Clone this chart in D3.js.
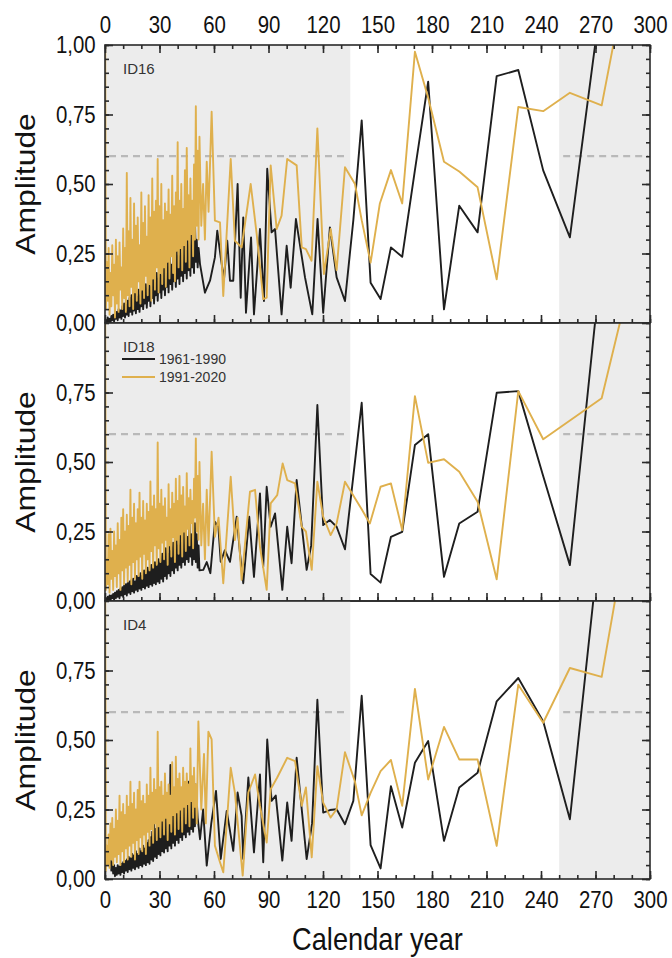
<!DOCTYPE html>
<html>
<head>
<meta charset="utf-8">
<script src="https://cdn.jsdelivr.net/npm/d3@7"></script>
<style>
  body { margin: 0; background: #fff; }
  svg { display: block; font-family: "Liberation Sans", Arial, sans-serif; }
</style>
</head>
<body>
<div id="chart"></div>
<script>
// x = calendar year (period), y = amplitude.
// below ~52 the curves are a dense zigzag mass, after that single vertices
var id16_1961 = [[0,0],[0.5,0.01],[1,0],[1.5,0.02],[2,0.005],[2.5,0.015],[3,0],[3.5,0.025],[4,0.01],[4.5,0.03],[5,0.005],[5.5,0.035],[6,0.015],[6.5,0.04],[7,0.01],[7.5,0.05],[8,0.02],[8.5,0.045],[9,0.015],[9.5,0.06],[10,0.025],[10.5,0.07],[11,0.02],[11.5,0.065],[12,0.03],[12.5,0.08],[13,0.025],[13.5,0.09],[14,0.04],[14.5,0.1],[15,0.03],[15.5,0.085],[16,0.045],[16.5,0.11],[17,0.035],[17.5,0.095],[18,0.05],[18.5,0.12],[19,0.04],[19.5,0.1],[20,0.06],[20.5,0.13],[21,0.05],[21.5,0.11],[22,0.07],[22.5,0.14],[23,0.055],[23.5,0.12],[24,0.08],[24.5,0.16],[25,0.06],[25.5,0.13],[26,0.09],[26.5,0.22],[27,0.07],[27.5,0.15],[28,0.1],[28.5,0.18],[29,0.08],[29.5,0.16],[30,0.11],[30.5,0.2],[31,0.09],[31.5,0.17],[32,0.12],[32.5,0.22],[33,0.1],[33.5,0.19],[34,0.13],[34.5,0.24],[35,0.11],[35.5,0.28],[36,0.14],[36.5,0.21],[37,0.12],[37.5,0.25],[38,0.15],[38.5,0.22],[39,0.13],[39.5,0.27],[40,0.16],[40.5,0.24],[41,0.14],[41.5,0.29],[42,0.17],[42.5,0.25],[43,0.15],[43.5,0.3],[44,0.18],[44.5,0.26],[45,0.16],[45.5,0.33],[46,0.19],[46.5,0.28],[47,0.17],[47.5,0.35],[48,0.2],[48.5,0.3],[49,0.18],[49.5,0.38],[50,0.22],[50.5,0.3],[51,0.2],[51.5,0.27],
  [52.3,0.212],[55,0.109],[57.8,0.152],[60.5,0.236],[61.8,0.332],[63.7,0.236],[65.5,0.158],[67.3,0.296],[68.8,0.152],[70.6,0.152],[73,0.5],[74.7,0.091],[76.1,0.38],[77.6,0.037],[80.4,0.308],[82,0.031],[85.3,0.338],[87.5,0.079],[89.3,0.555],[91.7,0.326],[93.6,0.338],[97.2,0.031],[100,0.278],[102.2,0.127],[105.1,0.374],[110.1,0.164],[114.1,0.031],[117,0.374],[120.1,0.037],[123.8,0.344],[127.5,0.164],[132.1,0.079],[136.7,0.37],[141.3,0.729],[146.2,0.145],[151.7,0.086],[157.4,0.272],[163.6,0.238],[170.6,0.55],[177.9,0.868],[186.6,0.049],[195,0.422],[205.1,0.326],[215.6,0.888],[227.5,0.91],[241.2,0.549],[255.9,0.308],[274,1.21]];
var id16_1991 = [[0,1.3],[0.5,0.05],[1,0.22],[1.5,0.08],[2,0.27],[2.5,0.03],[3,0.18],[3.5,0.06],[4,0.28],[4.5,0.1],[5,0.21],[5.5,0.02],[6,0.3],[6.5,0.07],[7,0.24],[7.5,0.04],[8,0.29],[8.5,0.12],[9,0.2],[9.5,0.05],[10,0.34],[10.5,0.09],[11,0.27],[11.5,0.04],[12,0.54],[12.5,0.1],[13,0.33],[13.5,0.06],[14,0.45],[14.5,0.13],[15,0.3],[15.5,0.05],[16,0.43],[16.5,0.11],[17,0.35],[17.5,0.08],[18,0.38],[18.5,0.15],[19,0.28],[19.5,0.07],[20,0.47],[20.5,0.12],[21,0.36],[21.5,0.09],[22,0.42],[22.5,0.17],[23,0.31],[23.5,0.1],[24,0.46],[24.5,0.14],[25,0.38],[25.5,0.08],[26,0.52],[26.5,0.16],[27,0.4],[27.5,0.12],[28,0.44],[28.5,0.2],[29,0.59],[29.5,0.11],[30,0.42],[30.5,0.18],[31,0.5],[31.5,0.14],[32,0.37],[32.5,0.2],[33,0.43],[33.5,0.13],[34,0.4],[34.5,0.22],[35,0.48],[35.5,0.16],[36,0.39],[36.5,0.24],[37,0.53],[37.5,0.18],[38,0.42],[38.5,0.15],[39,0.47],[39.5,0.26],[40,0.65],[40.5,0.2],[41,0.44],[41.5,0.27],[42,0.5],[42.5,0.19],[43,0.41],[43.5,0.28],[44,0.55],[44.5,0.22],[45,0.63],[45.5,0.3],[46,0.46],[46.5,0.2],[47,0.52],[47.5,0.32],[48,0.44],[48.5,0.24],[49,0.57],[49.5,0.3],[50,0.78],[50.5,0.35],[51,0.62],[51.5,0.3],[52,0.67],
  [53,0.35],[54,0.5],[55,0.3],[56,0.58],[57,0.4],[58.7,0.76],[60.5,0.368],[63.3,0.362],[65.1,0.097],[69.2,0.59],[71.5,0.296],[75.2,0.272],[80.2,0.5],[83.5,0.32],[87.1,0.086],[89,0.091],[91.2,0.567],[94.5,0.338],[97.2,0.386],[100.3,0.59],[105.5,0.567],[108.3,0.272],[110.6,0.266],[113.7,0.224],[116.9,0.7],[120.5,0.176],[124.2,0.338],[127.5,0.19],[132.1,0.56],[137.6,0.5],[141.3,0.37],[146.2,0.217],[151.3,0.43],[157.4,0.55],[163.6,0.43],[170.6,0.976],[177.9,0.81],[186.6,0.58],[195,0.545],[205.1,0.488],[215.6,0.157],[227.5,0.777],[241.2,0.762],[255.9,0.828],[273.4,0.783],[279.8,1.0],[290,1.4]];

var id18_1961 = [[0,0],[0.5,0.01],[1,0],[1.5,0.015],[2,0.005],[2.5,0.02],[3,0],[3.5,0.02],[4,0.01],[4.5,0.025],[5,0.005],[5.5,0.03],[6,0.01],[6.5,0.035],[7,0.015],[7.5,0.04],[8,0.01],[8.5,0.045],[9,0.02],[9.5,0.05],[10,0.015],[10.5,0.055],[11,0.025],[11.5,0.06],[12,0.02],[12.5,0.065],[13,0.03],[13.5,0.07],[14,0.025],[14.5,0.075],[15,0.035],[15.5,0.08],[16,0.03],[16.5,0.07],[17,0.04],[17.5,0.09],[18,0.035],[18.5,0.085],[19,0.045],[19.5,0.1],[20,0.04],[20.5,0.09],[21,0.05],[21.5,0.11],[22,0.045],[22.5,0.1],[23,0.055],[23.5,0.12],[24,0.05],[24.5,0.11],[25,0.06],[25.5,0.13],[26,0.055],[26.5,0.12],[27,0.065],[27.5,0.14],[28,0.06],[28.5,0.13],[29,0.07],[29.5,0.15],[30,0.065],[30.5,0.14],[31,0.08],[31.5,0.17],[32,0.07],[32.5,0.16],[33,0.09],[33.5,0.19],[34,0.08],[34.5,0.17],[35,0.1],[35.5,0.2],[36,0.09],[36.5,0.18],[37,0.11],[37.5,0.21],[38,0.1],[38.5,0.19],[39,0.12],[39.5,0.22],[40,0.11],[40.5,0.2],[41,0.13],[41.5,0.24],[42,0.12],[42.5,0.21],[43,0.14],[43.5,0.25],[44,0.13],[44.5,0.27],[45,0.15],[45.5,0.23],[46,0.14],[46.5,0.28],[47,0.16],[47.5,0.24],[48,0.13],[48.5,0.26],[49,0.15],[49.5,0.28],[50,0.14],[50.5,0.24],[51,0.12],[51.5,0.2],[52,0.11],
  [54.1,0.112],[56,0.14],[58,0.1],[60.5,0.285],[62.4,0.267],[63.7,0.141],[66,0.183],[68.8,0.141],[72.5,0.303],[74.3,0.172],[76.1,0.064],[79.4,0.303],[82,0.087],[85.3,0.387],[87.1,0.123],[89,0.411],[91.2,0.267],[93.6,0.315],[97.6,0.04],[100.3,0.267],[102.7,0.136],[105.5,0.435],[111,0.112],[113.5,0.2],[116.9,0.705],[120.1,0.273],[123.8,0.291],[127.5,0.267],[132.1,0.186],[141.3,0.713],[146.2,0.097],[151.7,0.066],[157.4,0.231],[163.6,0.249],[170.6,0.561],[177.9,0.6],[186.6,0.087],[195,0.279],[205.1,0.321],[215.6,0.749],[227.5,0.755],[241.2,0.45],[255.9,0.129],[274,1.27]];
var id18_1991 = [[0,1.3],[0.5,0.04],[1,0.15],[1.5,0.06],[2,0.24],[2.5,0.03],[3,0.26],[3.5,0.08],[4,0.18],[4.5,0.04],[5,0.25],[5.5,0.09],[6,0.2],[6.5,0.05],[7,0.28],[7.5,0.1],[8,0.22],[8.5,0.04],[9,0.3],[9.5,0.11],[10,0.33],[10.5,0.06],[11,0.25],[11.5,0.12],[12,0.31],[12.5,0.07],[13,0.27],[13.5,0.13],[14,0.4],[14.5,0.06],[15,0.3],[15.5,0.14],[16,0.35],[16.5,0.08],[17,0.28],[17.5,0.15],[18,0.33],[18.5,0.09],[19,0.39],[19.5,0.16],[20,0.3],[20.5,0.08],[21,0.36],[21.5,0.17],[22,0.29],[22.5,0.1],[23,0.35],[23.5,0.15],[24,0.32],[24.5,0.11],[25,0.43],[25.5,0.18],[26,0.34],[26.5,0.12],[27,0.38],[27.5,0.2],[28,0.33],[28.5,0.13],[29,0.57],[29.5,0.19],[30,0.35],[30.5,0.14],[31,0.4],[31.5,0.21],[32,0.34],[32.5,0.15],[33,0.37],[33.5,0.22],[34,0.3],[34.5,0.13],[35,0.42],[35.5,0.2],[36,0.33],[36.5,0.16],[37,0.39],[37.5,0.23],[38,0.35],[38.5,0.14],[39,0.44],[39.5,0.22],[40,0.36],[40.5,0.17],[41,0.45],[41.5,0.24],[42,0.38],[42.5,0.16],[43,0.41],[43.5,0.25],[44,0.34],[44.5,0.18],[45,0.46],[45.5,0.26],[46,0.37],[46.5,0.2],[47,0.4],[47.5,0.28],[48,0.36],[48.5,0.19],[49,0.44],[49.5,0.3],[50,0.585],[50.5,0.25],[51,0.45],[51.5,0.22],[52,0.5],
  [53,0.2],[54,0.35],[55,0.15],[56,0.4],[57,0.2],[58.7,0.537],[60.5,0.231],[62.5,0.3],[65.1,0.064],[69.2,0.447],[71.5,0.219],[73,0.3],[75.2,0.076],[79.8,0.393],[82.6,0.4],[85.3,0.195],[89,0.04],[91.2,0.351],[94.8,0.381],[97.8,0.495],[100.3,0.435],[104.6,0.423],[108.3,0.267],[110.6,0.25],[113.8,0.112],[116.9,0.429],[120.1,0.303],[124.2,0.237],[127.5,0.279],[132.1,0.429],[137.6,0.37],[141.3,0.33],[145.8,0.279],[151.7,0.411],[157.4,0.423],[163.6,0.255],[170.6,0.737],[177.9,0.497],[186.6,0.51],[195,0.465],[205.1,0.357],[215.6,0.078],[227.5,0.755],[241.2,0.582],[273.4,0.729],[283.4,1.0],[290,1.2]];

var id4_1961 = [[0,0.02],[0.5,0.08],[1,0.1],[1.5,0.05],[2,0.12],[2.5,0.06],[3,0.1],[3.5,0.03],[4,0.06],[4.5,0.02],[5,0.05],[5.5,0.01],[6,0.04],[6.5,0.015],[7,0.05],[7.5,0.02],[8,0.045],[8.5,0.015],[9,0.055],[9.5,0.025],[10,0.06],[10.5,0.02],[11,0.065],[11.5,0.03],[12,0.07],[12.5,0.025],[13,0.08],[13.5,0.035],[14,0.075],[14.5,0.03],[15,0.09],[15.5,0.04],[16,0.085],[16.5,0.035],[17,0.1],[17.5,0.045],[18,0.09],[18.5,0.04],[19,0.11],[19.5,0.05],[20,0.1],[20.5,0.045],[21,0.12],[21.5,0.055],[22,0.11],[22.5,0.05],[23,0.13],[23.5,0.06],[24,0.14],[24.5,0.055],[25,0.15],[25.5,0.07],[26,0.17],[26.5,0.065],[27,0.2],[27.5,0.08],[28,0.18],[28.5,0.075],[29,0.21],[29.5,0.09],[30,0.19],[30.5,0.085],[31,0.24],[31.5,0.1],[32,0.21],[32.5,0.095],[33,0.23],[33.5,0.11],[34,0.26],[34.5,0.1],[35,0.3],[35.5,0.12],[36,0.41],[36.5,0.11],[37,0.25],[37.5,0.13],[38,0.28],[38.5,0.12],[39,0.24],[39.5,0.14],[40,0.3],[40.5,0.13],[41,0.27],[41.5,0.15],[42,0.32],[42.5,0.14],[43,0.26],[43.5,0.16],[44,0.31],[44.5,0.15],[45,0.28],[45.5,0.17],[46,0.35],[46.5,0.16],[47,0.29],[47.5,0.18],[48,0.33],[48.5,0.17],[49,0.3],[49.5,0.19],[50,0.34],[51,0.22],
  [52.3,0.143],[54,0.25],[56,0.048],[58.5,0.2],[61.1,0.317],[63.7,0.072],[67,0.245],[70.6,0.101],[73,0.311],[75.2,0.227],[76.1,0.072],[78.9,0.365],[82,0.096],[85.3,0.376],[87.1,0.06],[89.3,0.502],[91.7,0.281],[94,0.3],[97.6,0.066],[100.3,0.275],[102.7,0.137],[105.5,0.436],[111,0.072],[114,0.2],[116.9,0.645],[120.1,0.239],[123.8,0.248],[127.5,0.251],[132.1,0.197],[136.7,0.281],[141.3,0.659],[146.2,0.122],[151.7,0.038],[157.4,0.334],[163.6,0.185],[170.6,0.418],[177.9,0.496],[186.6,0.137],[195,0.329],[205.1,0.382],[215.6,0.639],[227.5,0.723],[241.2,0.567],[255.9,0.215],[274,1.32]];
var id4_1991 = [[0,1.3],[0.5,0.03],[1,0.12],[1.5,0.05],[2,0.16],[2.5,0.04],[3,0.2],[3.5,0.07],[4,0.22],[4.5,0.05],[5,0.18],[5.5,0.08],[6,0.25],[6.5,0.06],[7,0.21],[7.5,0.09],[8,0.3],[8.5,0.05],[9,0.24],[9.5,0.1],[10,0.27],[10.5,0.06],[11,0.23],[11.5,0.11],[12,0.3],[12.5,0.07],[13,0.26],[13.5,0.12],[14,0.35],[14.5,0.08],[15,0.27],[15.5,0.13],[16,0.31],[16.5,0.07],[17,0.25],[17.5,0.14],[18,0.32],[18.5,0.09],[19,0.35],[19.5,0.15],[20,0.28],[20.5,0.1],[21,0.3],[21.5,0.16],[22,0.27],[22.5,0.09],[23,0.34],[23.5,0.17],[24,0.3],[24.5,0.12],[25,0.4],[25.5,0.18],[26,0.31],[26.5,0.13],[27,0.36],[27.5,0.2],[28,0.32],[28.5,0.14],[29,0.53],[29.5,0.19],[30,0.33],[30.5,0.15],[31,0.35],[31.5,0.21],[32,0.3],[32.5,0.16],[33,0.38],[33.5,0.22],[34,0.31],[34.5,0.14],[35,0.34],[35.5,0.2],[36,0.3],[36.5,0.17],[37,0.42],[37.5,0.23],[38,0.33],[38.5,0.16],[39,0.44],[39.5,0.24],[40,0.36],[40.5,0.18],[41,0.38],[41.5,0.25],[42,0.33],[42.5,0.17],[43,0.4],[43.5,0.26],[44,0.35],[44.5,0.2],[45,0.38],[45.5,0.27],[46,0.34],[46.5,0.19],[47,0.47],[47.5,0.28],[48,0.37],[48.5,0.22],[49,0.4],[49.5,0.26],[50,0.34],[50.5,0.2],
  [51.4,0.567],[53,0.25],[54.5,0.45],[55.5,0.2],[56.9,0.53],[58.7,0.502],[60.5,0.12],[63.3,0.06],[65.1,0.024],[69.2,0.4],[71.5,0.311],[75.8,0.012],[78.9,0.311],[82.6,0.376],[85.3,0.263],[89,0.131],[91.2,0.323],[94.8,0.365],[100.3,0.436],[104.6,0.424],[108.3,0.263],[110.6,0.329],[113.8,0.078],[116.9,0.406],[120.1,0.275],[124.2,0.221],[127.5,0.251],[132.1,0.456],[137.6,0.35],[141.3,0.229],[146.2,0.31],[151.7,0.388],[157.4,0.428],[163.6,0.263],[170.6,0.684],[177.9,0.358],[186.6,0.547],[195,0.43],[205.1,0.43],[215.6,0.119],[227.5,0.699],[241.2,0.562],[255.9,0.759],[273.4,0.727],[280.7,1.0],[290,1.35]];

var panelNames = ["ID16", "ID18", "ID4"];
var series1961 = [id16_1961, id18_1961, id4_1961];
var series1991 = [id16_1991, id18_1991, id4_1991];
var legendLabels = ["1961-1990", "1991-2020"];
var xMajor = [0, 30, 60, 90, 120, 150, 180, 210, 240, 270, 300];
var yMajor = [0, 0.25, 0.5, 0.75, 1];
var shadedSpans = [[0, 135], [250, 300]];
var threshold = 0.6;

(function(){
var W = 672, H = 958;
var left = 105, right = 650;
var top0 = 45, panelH = 278;
var black = "#1e1e1e", gold = "#dfb04d";
var squish = "scale(0.85,1)";

var svg = d3.select("#chart").append("svg")
    .attr("width", W)
    .attr("height", H);

var x = d3.scaleLinear().domain([0, 300]).range([left, right]);
var fmt = function(d){ return d3.format(".2f")(d).replace(".", ","); };
var xMinor = d3.range(0, 301, 10);
var yMinor = d3.range(0, 1.001, 0.05);

for(var i = 0; i < 3; i++){
    var pTop = top0 + panelH*i;
    var y = d3.scaleLinear().domain([0, 1]).range([pTop + panelH, pTop]);
    var g = svg.append("g");

    g.append("clipPath").attr("id", "clip"+i)
        .append("rect")
        .attr("x", left).attr("y", pTop)
        .attr("width", right - left).attr("height", panelH);

    g.selectAll("rect.shade").data(shadedSpans).enter().append("rect")
        .attr("class", "shade")
        .attr("x", function(d){ return x(d[0]); })
        .attr("width", function(d){ return x(d[1]) - x(d[0]); })
        .attr("y", pTop).attr("height", panelH)
        .attr("fill", "#ececec");

    g.selectAll("line.thr").data(shadedSpans).enter().append("line")
        .attr("class", "thr")
        .attr("x1", function(d){ return x(d[0]) + 4; })
        .attr("x2", function(d){ return x(d[1]) - 2; })
        .attr("y1", y(threshold)).attr("y2", y(threshold))
        .attr("stroke", "#b9b9b9")
        .attr("stroke-width", 2.2)
        .attr("stroke-dasharray", "7,5");

    //black under gold, so the dense part shows mostly gold like the original
    var line = d3.line().x(function(d){ return x(d[0]); }).y(function(d){ return y(d[1]); });
    var lines = g.append("g").attr("clip-path", "url(#clip"+i+")");
    lines.append("path").attr("d", line(series1961[i]))
        .attr("fill", "none").attr("stroke", black).attr("stroke-width", 1.9)
        .attr("stroke-linejoin", "round");
    lines.append("path").attr("d", line(series1991[i]))
        .attr("fill", "none").attr("stroke", gold).attr("stroke-width", 1.9)
        .attr("stroke-linejoin", "round");

    //ticks all point inward
    var yVals = i == 0 ? yMajor : yMajor.slice(0, 4);
    g.append("g").attr("transform", "translate("+left+",0)")
        .call(d3.axisLeft(y).tickValues(yVals).tickSize(-8).tickPadding(11).tickFormat(fmt));
    g.append("g").attr("transform", "translate("+left+",0)")
        .call(d3.axisLeft(y).tickValues(yMinor).tickSize(-4).tickFormat(""));
    g.append("g").attr("transform", "translate("+right+",0)")
        .call(d3.axisRight(y).tickValues(yMajor).tickSize(-8).tickFormat(""));
    g.append("g").attr("transform", "translate("+right+",0)")
        .call(d3.axisRight(y).tickValues(yMinor).tickSize(-4).tickFormat(""));

    g.append("g").attr("transform", "translate(0,"+(pTop + panelH)+")")
        .call(d3.axisBottom(x).tickValues(xMajor).tickSize(-8).tickPadding(12)
            .tickFormat(i == 2 ? d3.format("d") : ""));
    g.append("g").attr("transform", "translate(0,"+(pTop + panelH)+")")
        .call(d3.axisBottom(x).tickValues(xMinor).tickSize(-4).tickFormat(""));
    if(i == 0){
        g.append("g").attr("transform", "translate(0,"+pTop+")")
            .call(d3.axisTop(x).tickValues(xMajor).tickSize(-8).tickPadding(12).tickFormat(d3.format("d")));
        g.append("g").attr("transform", "translate(0,"+pTop+")")
            .call(d3.axisTop(x).tickValues(xMinor).tickSize(-4).tickFormat(""));
    }

    g.append("rect")
        .attr("x", left).attr("y", pTop)
        .attr("width", right - left).attr("height", panelH)
        .attr("fill", "none").attr("stroke", "#2a2a2a").attr("stroke-width", 1.6);

    g.append("text")
        .attr("x", left + 18).attr("y", pTop + 29)
        .attr("font-size", 15).attr("fill", "#333")
        .text(panelNames[i]);

    g.append("text")
        .attr("transform", "translate(35,"+(pTop + panelH/2)+") rotate(-90) scale(1.18,1)")
        .attr("text-anchor", "middle")
        .attr("font-size", 27).attr("fill", "#111")
        .text("Amplitude");
}

svg.selectAll(".domain").remove();
svg.selectAll(".tick line").attr("stroke", "#2a2a2a").attr("stroke-width", 1.6);
svg.selectAll(".tick text")
    .attr("font-size", 24)
    .attr("font-family", "'Liberation Sans', Arial, sans-serif")
    .attr("fill", "#111")
    .attr("transform", squish);

//legend sits in the middle panel
var lg = svg.append("g").attr("transform", "translate(122,"+(top0 + panelH + 36)+")");
[black, gold].forEach(function(c, k){
    lg.append("line").attr("x1", 0).attr("x2", 33)
        .attr("y1", k*18).attr("y2", k*18)
        .attr("stroke", c).attr("stroke-width", 1.8);
    lg.append("text").attr("x", 37).attr("y", k*18 + 5)
        .attr("font-size", 14).attr("fill", "#333")
        .text(legendLabels[k]);
});

svg.append("text")
    .attr("transform", "translate("+((left + right)/2)+",950) scale(0.85,1)")
    .attr("text-anchor", "middle")
    .attr("font-size", 32).attr("fill", "#111")
    .text("Calendar year");
})();
</script>
</body>
</html>
